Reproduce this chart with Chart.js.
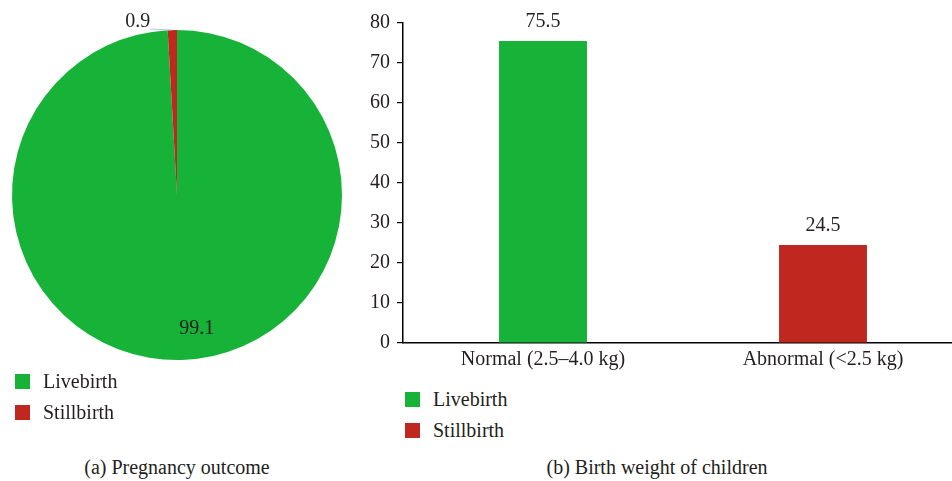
<!DOCTYPE html>
<html>
<head>
<meta charset="utf-8">
<script src="https://cdn.jsdelivr.net/npm/chart.js@4"></script>
<style>
  body { margin: 0; background: #fff; width: 952px; height: 481px; position: relative; overflow: hidden;
         font-family: "Liberation Serif", "DejaVu Serif", serif; color: #231f20; }
  .box { position: absolute; }
  .legend { position: absolute; font-size: 20px; }
  .legend div { height: 31px; display: flex; align-items: center; }
  .legend span.sw { display: inline-block; width: 15px; height: 15px; margin-right: 13px; }
  .caption { position: absolute; top: 456px; font-size: 20px; text-align: center; }
</style>
</head>
<body>
<div class="box" style="left:0;top:0;width:360px;height:370px"><canvas id="pieChart"></canvas></div>
<div class="box" style="left:360px;top:0;width:608px;height:382px"><canvas id="barChart"></canvas></div>

<div class="legend" id="pieLegend" style="left:15px;top:366px"></div>
<div class="legend" id="barLegend" style="left:405px;top:384px"></div>
<div class="caption" style="left:27px;width:300px">(a) Pregnancy outcome</div>
<div class="caption" style="left:507px;width:300px">(b) Birth weight of children</div>

<script>
// ---- data ----
const outcomeLabels = ['Livebirth', 'Stillbirth'];
const outcomeValues = [99.1, 0.9];

const weightLabels = ['Normal (2.5\u20134.0 kg)', 'Abnormal (<2.5 kg)'];
const weightValues = [75.5, 24.5];

const yTicks = [0, 10, 20, 30, 40, 50, 60, 70, 80];

const GREEN = '#16b338';
const RED = '#c0281f';
const TEXT = '#231f20';
const FONT = '"Liberation Serif", "DejaVu Serif", serif';

// html legends
function buildLegend(id) {
  const el = document.getElementById(id);
  outcomeLabels.forEach((lab, i) => {
    const row = document.createElement('div');
    row.innerHTML = '<span class="sw" style="background:' + [GREEN, RED][i] + '"></span>' + lab;
    el.appendChild(row);
  });
}
buildLegend('pieLegend');
buildLegend('barLegend');

// value labels for pie slices
const pieLabels = {
  id: 'pieLabels',
  afterDatasetsDraw(chart) {
    const ctx = chart.ctx;
    const meta = chart.getDatasetMeta(0);
    ctx.save();
    ctx.font = '20px ' + FONT;
    ctx.fillStyle = TEXT;
    meta.data.forEach((arc, i) => {
      const mid = (arc.startAngle + arc.endAngle) / 2;
      const val = String(outcomeValues[i]);
      if (outcomeValues[i] < 5) {
        // small slice: leader line out to the left
        const ox = arc.x + arc.outerRadius * Math.cos(mid);
        const oy = arc.y + arc.outerRadius * Math.sin(mid);
        ctx.strokeStyle = '#b4c3dc';
        ctx.lineWidth = 1;
        ctx.beginPath();
        ctx.moveTo(ox, oy);
        ctx.lineTo(ox - 22, oy - 1);
        ctx.stroke();
        ctx.textAlign = 'right';
        ctx.textBaseline = 'alphabetic';
        ctx.fillText(val, ox - 22, oy - 3);
      } else {
        const r = arc.outerRadius * 0.8;
        ctx.textAlign = 'center';
        ctx.textBaseline = 'middle';
        ctx.fillText(val, arc.x + r * Math.cos(mid) + 16, arc.y + r * Math.sin(mid) + 2);
      }
    });
    ctx.restore();
  }
};

// value labels above bars
const barLabels = {
  id: 'barLabels',
  afterDatasetsDraw(chart) {
    const ctx = chart.ctx;
    const meta = chart.getDatasetMeta(0);
    ctx.save();
    ctx.font = '20px ' + FONT;
    ctx.fillStyle = TEXT;
    ctx.textAlign = 'center';
    ctx.textBaseline = 'middle';
    meta.data.forEach((bar, i) => {
      ctx.fillText(String(weightValues[i]), bar.x, bar.y - 19);
    });
    ctx.restore();
  }
};

new Chart(document.getElementById('pieChart'), {
  type: 'pie',
  data: {
    labels: outcomeLabels,
    datasets: [{
      data: outcomeValues,
      backgroundColor: [GREEN, RED],
      borderWidth: 0
    }]
  },
  options: {
    responsive: true,
    maintainAspectRatio: false,
    animation: false,
    layout: { padding: { left: 12, top: 30, right: 18, bottom: 10 } },
    plugins: { legend: { display: false }, tooltip: { enabled: false } }
  },
  plugins: [pieLabels]
});

new Chart(document.getElementById('barChart'), {
  type: 'bar',
  data: {
    labels: weightLabels,
    datasets: [{
      data: weightValues,
      backgroundColor: [GREEN, RED],
      borderWidth: 0,
      barPercentage: 1,
      categoryPercentage: 0.314
    }]
  },
  options: {
    responsive: true,
    maintainAspectRatio: false,
    animation: false,
    layout: { padding: { left: 0, top: 23, right: 5, bottom: 0 } },
    plugins: { legend: { display: false }, tooltip: { enabled: false } },
    scales: {
      x: {
        grid: { display: true, drawOnChartArea: false, drawTicks: false },
        border: { color: '#000', width: 1.5 },
        ticks: { color: TEXT, font: { family: FONT, size: 20 }, padding: 5 },
        afterFit(scale) { scale.height = 39; }
      },
      y: {
        min: 0,
        max: 80,
        afterBuildTicks(scale) { scale.ticks = yTicks.map(v => ({ value: v })); },
        grid: { display: true, drawOnChartArea: false, drawTicks: true, tickLength: 6, color: '#000', lineWidth: 1.2 },
        border: { color: '#000', width: 1.5 },
        ticks: { color: TEXT, font: { family: FONT, size: 20 }, padding: 7 },
        afterFit(scale) { scale.width = 43; }
      }
    }
  },
  plugins: [barLabels]
});
</script>
</body>
</html>
